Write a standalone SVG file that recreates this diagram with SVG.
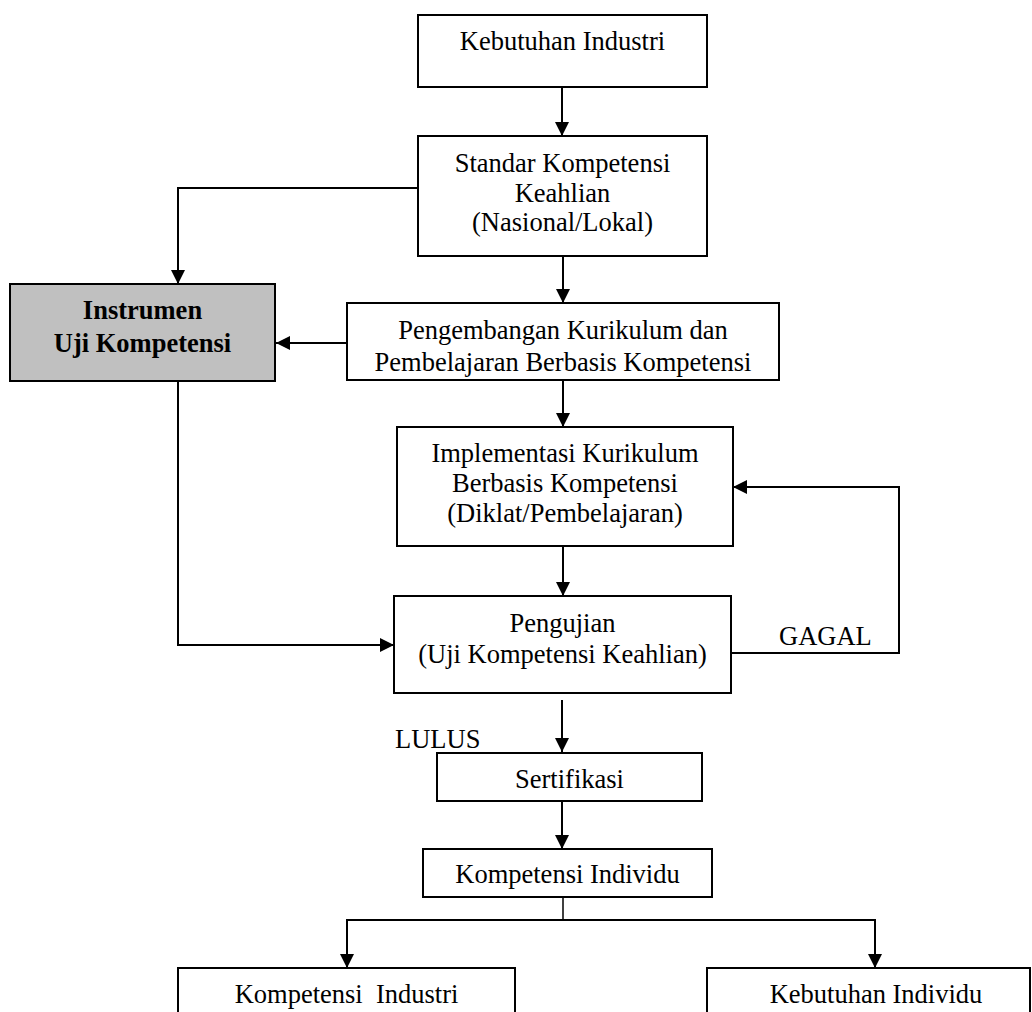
<svg xmlns="http://www.w3.org/2000/svg" width="1032" height="1012" viewBox="0 0 1032 1012">
  <style>
    .box { fill: #ffffff; stroke: #000000; stroke-width: 2; }
    .grey { fill: #c0c0c0; stroke: #000000; stroke-width: 2; }
    .t { font-family: "Liberation Serif", "Times New Roman", serif; font-size: 26.5px; fill: #000000; text-anchor: middle; }
    .b { font-weight: bold; }
    .l { font-family: "Liberation Serif", "Times New Roman", serif; font-size: 26.5px; fill: #000000; }
    .c { fill: none; stroke: #000000; stroke-width: 2; }
    .thin { fill: none; stroke: #000000; stroke-width: 1.5; }
  </style>
  <defs>
    <marker id="arr" markerUnits="userSpaceOnUse" markerWidth="15" markerHeight="15" refX="14" refY="7" orient="auto">
      <path d="M0,0 L14,7 L0,14 Z" fill="#000000"/>
    </marker>
  </defs>
  <rect width="1032" height="1012" fill="#ffffff"/>

  <g id="connectors">
    <path class="c" d="M562,87 V136" marker-end="url(#arr)"/>
    <path class="c" d="M418,188 H178 V284" marker-end="url(#arr)"/>
    <path class="c" d="M563,256 V303" marker-end="url(#arr)"/>
    <path class="c" d="M347,343 H276" marker-end="url(#arr)"/>
    <path class="c" d="M563,380 V427" marker-end="url(#arr)"/>
    <path class="c" d="M563,546 V596" marker-end="url(#arr)"/>
    <path class="c" d="M178,381 V645 H394" marker-end="url(#arr)"/>
    <path class="c" d="M731,653 H899 V487 H733" marker-end="url(#arr)"/>
    <path class="c" d="M562,700 V752" marker-end="url(#arr)"/>
    <path class="c" d="M562,801 V849" marker-end="url(#arr)"/>
    <path class="thin" d="M563,897 V920"/>
    <path class="c" d="M563,920 H347 V968" marker-end="url(#arr)"/>
    <path class="c" d="M563,920 H875 V968" marker-end="url(#arr)"/>
    <text class="l" x="779" y="645">GAGAL</text>
    <text class="l" x="395" y="748">LULUS</text>
  </g>

  <g id="kebutuhan-industri">
    <rect class="box" x="418" y="15" width="289" height="72"/>
    <text class="t" x="562.5" y="50">Kebutuhan Industri</text>
  </g>

  <g id="standar-kompetensi">
    <rect class="box" x="418" y="136" width="289" height="120"/>
    <text class="t" x="562.5" y="172">Standar Kompetensi</text>
    <text class="t" x="562.5" y="202">Keahlian</text>
    <text class="t" x="562.5" y="231">(Nasional/Lokal)</text>
  </g>

  <g id="instrumen">
    <rect class="grey" x="10" y="284" width="265" height="97"/>
    <text class="t b" x="142.5" y="319">Instrumen</text>
    <text class="t b" x="142.5" y="352">Uji Kompetensi</text>
  </g>

  <g id="pengembangan">
    <rect class="box" x="347" y="303" width="432" height="77"/>
    <text class="t" x="563" y="339">Pengembangan Kurikulum dan</text>
    <text class="t" x="563" y="371">Pembelajaran Berbasis Kompetensi</text>
  </g>

  <g id="implementasi">
    <rect class="box" x="397" y="427" width="336" height="119"/>
    <text class="t" x="565" y="462">Implementasi Kurikulum</text>
    <text class="t" x="565" y="492">Berbasis Kompetensi</text>
    <text class="t" x="565" y="522">(Diklat/Pembelajaran)</text>
  </g>

  <g id="pengujian">
    <rect class="box" x="394" y="596" width="337" height="97"/>
    <text class="t" x="562.5" y="632">Pengujian</text>
    <text class="t" x="562.5" y="663">(Uji Kompetensi Keahlian)</text>
  </g>

  <g id="sertifikasi">
    <rect class="box" x="437" y="753" width="265" height="48"/>
    <text class="t" x="569.5" y="788">Sertifikasi</text>
  </g>

  <g id="kompetensi-individu">
    <rect class="box" x="423" y="849" width="289" height="48"/>
    <text class="t" x="567.5" y="883">Kompetensi Individu</text>
  </g>

  <g id="kompetensi-industri">
    <rect class="box" x="178" y="968" width="337" height="60"/>
    <text class="t" x="346.5" y="1003" xml:space="preserve">Kompetensi  Industri</text>
  </g>

  <g id="kebutuhan-individu">
    <rect class="box" x="707" y="968" width="323" height="60"/>
    <text class="t" x="876" y="1003">Kebutuhan Individu</text>
  </g>
</svg>
